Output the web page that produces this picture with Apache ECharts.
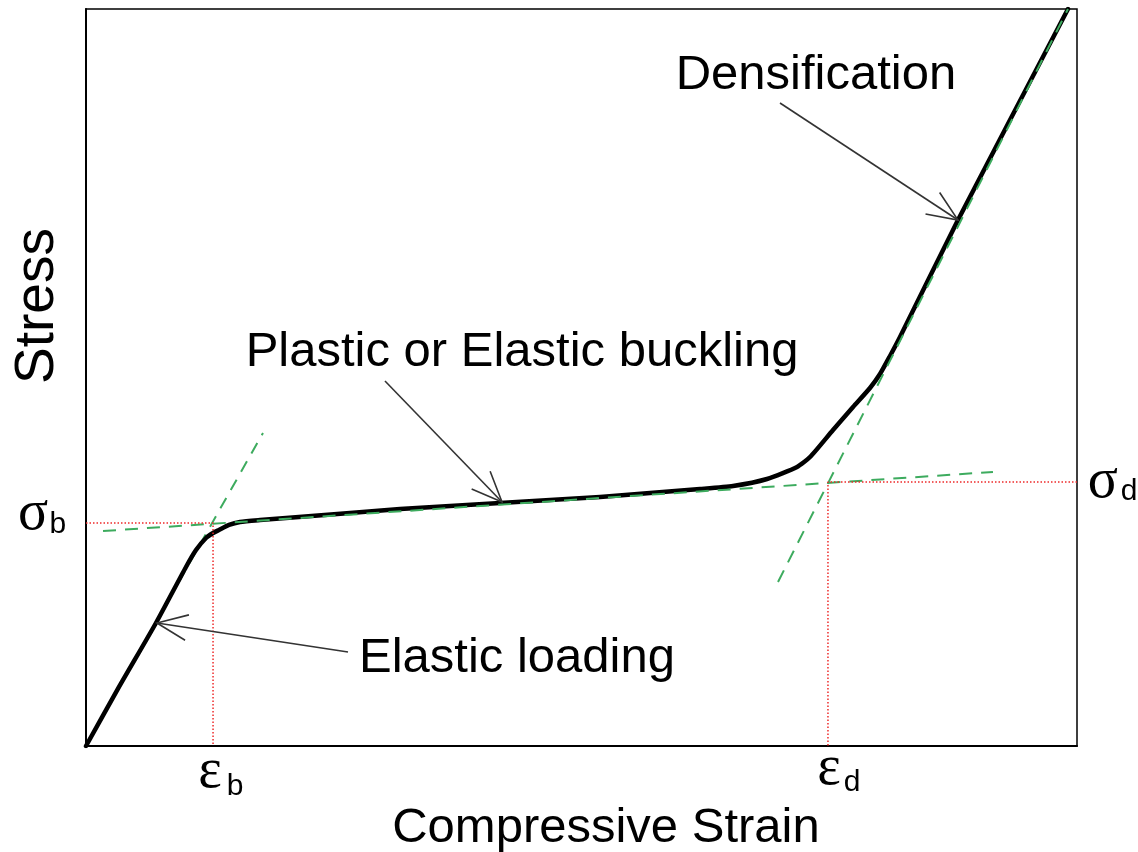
<!DOCTYPE html>
<html>
<head>
<meta charset="utf-8">
<script src="https://cdn.jsdelivr.net/npm/echarts@6/dist/echarts.min.js"></script>
<style>html,body{margin:0;padding:0;background:#fff;}#c{width:1138px;height:852px;}</style>
</head>
<body>
<div id="c"></div>
<script>
// Stress-strain curve (arbitrary units, 0..100 on both axes)
const strain = [0, 3.33, 7.06, 10.09, 11.10, 12.11, 12.82, 13.42, 14.43, 15.54, 17.56, 20.18, 26.64, 31.69, 41.78, 51.87, 61.96, 65.29, 68.72, 71.75, 73.06, 75.38, 77.40, 79.11, 80.12, 81.13, 82.14, 87.99, 99.09];
const stress = [0, 8.01, 16.69, 24.29, 26.59, 28.22, 28.90, 29.31, 29.99, 30.39, 30.66, 30.94, 31.61, 32.16, 32.97, 33.79, 34.87, 35.28, 36.23, 37.86, 39.21, 42.88, 46.00, 48.58, 50.47, 52.92, 55.50, 71.37, 100];

// Tangent construction lines [x1, y1, x2, y2]
const elasticTangent = [0, 0, 17.86, 42.47];
const plateauTangent = [1.72, 29.17, 91.52, 37.18];
const densTangent = [69.83, 22.25, 99.09, 100];

// Characteristic points
const epsB = 12.82, sigB = 30.26;
const epsD = 74.87, sigD = 35.82;

// Annotations: text, position, arrow start -> arrow tip
const annoText = ['Densification', 'Plastic or Elastic buckling', 'Elastic loading'];
const annoPos = [[73.66, 91.04], [44.0, 53.46], [43.49, 11.94]];
const arrows = [[70.03, 87.25, 87.99, 71.37], [30.17, 49.53, 41.98, 33.11], [26.44, 12.75, 7.16, 16.69]];

// Symbol labels: main glyph, subscript, positions
const symMain = ['σ', 'σ', 'ε', 'ε'];
const symSub = ['b', 'd', 'b', 'd'];
const symMainPos = [[-5.35, 31.48], [102.62, 35.82], [12.51, -3.53], [74.97, -3.12]];
const symSubPos = [[-2.83, 29.99], [105.25, 34.46], [15.04, -5.56], [77.30, -5.02]];

// Axis titles
const xTitle = 'Compressive Strain', xTitlePos = [52.47, -11.13];
const yTitle = 'Stress', yTitlePos = [-4.84, 59.70];

const curve = strain.map((x, i) => [x, stress[i]]);
const seg = s => [[s[0], s[1]], [s[2], s[3]]];

const green = '#3dab5e';
const red = '#ee2a2a';
const SANS = '"Liberation Sans", Arial, sans-serif';
const SERIF = '"Liberation Serif", "Times New Roman", serif';

function dashedLine(data, color, type, width, z) {
  return { type: 'line', data: data, showSymbol: false, symbol: 'none', silent: true, z: z,
    lineStyle: { color: color, width: width, type: type }, animation: false };
}

const chart = echarts.init(document.getElementById('c'), null, { renderer: 'canvas' });
chart.setOption({
  animation: false,
  backgroundColor: '#fff',
  grid: { left: 86, top: 9, width: 991, height: 737, show: true, borderColor: '#000', borderWidth: 1.5, backgroundColor: 'transparent' },
  xAxis: { type: 'value', min: 0, max: 100, axisLine: { show: true, onZero: false, lineStyle: { color: '#000', width: 2 } },
    axisTick: { show: false }, axisLabel: { show: false }, splitLine: { show: false } },
  yAxis: { type: 'value', min: 0, max: 100, axisLine: { show: true, onZero: false, lineStyle: { color: '#000', width: 2 } },
    axisTick: { show: false }, axisLabel: { show: false }, splitLine: { show: false } },
  series: [
    dashedLine(seg(elasticTangent), green, [12, 9], 2, 1),
    { type: 'line', data: curve, smooth: 0.2, showSymbol: false, symbol: 'none', z: 2,
      lineStyle: { color: '#000', width: 4.5, cap: 'round', join: 'round' } },
    dashedLine(seg(plateauTangent), green, [13, 9], 2, 3),
    dashedLine(seg(densTangent), green, [13, 9], 2, 3),
    dashedLine([[0, sigB], [epsB, sigB], [epsB, 0]], red, [1.5, 2], 1.5, 4),
    dashedLine([[100, sigD], [epsD, sigD], [epsD, 0]], red, [1.5, 2], 1.5, 4),
    { type: 'custom', clip: false, z: 5, silent: true,
      data: arrows,
      renderItem: function (params, api) {
        const p1 = api.coord([api.value(0), api.value(1)]);
        const p2 = api.coord([api.value(2), api.value(3)]);
        const ang = Math.atan2(p1[1] - p2[1], p1[0] - p2[0]);
        const L = 33, a = 0.40;
        const h1 = [p2[0] + L * Math.cos(ang + a), p2[1] + L * Math.sin(ang + a)];
        const h2 = [p2[0] + L * Math.cos(ang - a), p2[1] + L * Math.sin(ang - a)];
        const st = { stroke: '#333', lineWidth: 1.6, fill: null };
        return { type: 'group', children: [
          { type: 'line', shape: { x1: p1[0], y1: p1[1], x2: p2[0], y2: p2[1] }, style: st },
          { type: 'polyline', shape: { points: [h1, p2, h2] }, style: st }
        ] };
      } },
    { type: 'custom', clip: false, z: 6, silent: true,
      data: annoPos.map((p, i) => [p[0], p[1], i]),
      renderItem: function (params, api) {
        const p = api.coord([api.value(0), api.value(1)]);
        return { type: 'text', x: p[0], y: p[1], style: { text: annoText[api.value(2)], fill: '#000',
          font: '49px ' + SANS, align: 'center', verticalAlign: 'middle' } };
      } },
    { type: 'custom', clip: false, z: 6, silent: true,
      data: symMainPos.map((p, i) => [p[0], p[1], symSubPos[i][0], symSubPos[i][1], i]),
      renderItem: function (params, api) {
        const i = api.value(4);
        const p = api.coord([api.value(0), api.value(1)]);
        const q = api.coord([api.value(2), api.value(3)]);
        return { type: 'group', children: [
          { type: 'text', x: p[0], y: p[1], style: { text: symMain[i], fill: '#000', font: '56px ' + SERIF, align: 'center', verticalAlign: 'middle' } },
          { type: 'text', x: q[0], y: q[1], style: { text: symSub[i], fill: '#000', font: '30px ' + SANS, align: 'center', verticalAlign: 'middle' } }
        ] };
      } },
    { type: 'custom', clip: false, z: 6, silent: true,
      data: [[xTitlePos[0], xTitlePos[1], 0], [yTitlePos[0], yTitlePos[1], 1]],
      renderItem: function (params, api) {
        const p = api.coord([api.value(0), api.value(1)]);
        const isY = api.value(2) === 1;
        return { type: 'text', x: p[0], y: p[1], rotation: isY ? Math.PI / 2 : 0,
          style: { text: isY ? yTitle : xTitle, fill: '#000', font: (isY ? '55px ' : '49px ') + SANS, align: 'center', verticalAlign: 'middle' } };
      } }
  ]
});
</script>
</body>
</html>
